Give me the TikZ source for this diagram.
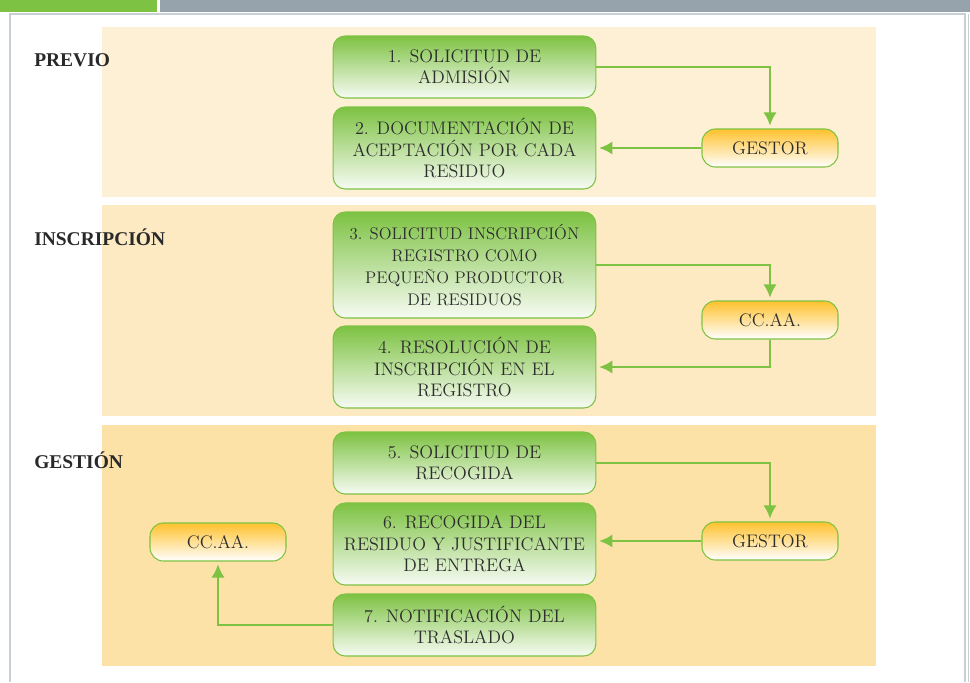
\documentclass[tikz,border=0pt]{standalone}
\usepackage{fontspec}
\newfontfamily\fasefont{Liberation Serif}
\usepackage{tikz}
\usetikzlibrary{arrows.meta,positioning}

\definecolor{verde}{RGB}{125,194,66}
\definecolor{gris}{RGB}{150,162,172}
\definecolor{marco}{RGB}{200,208,214}
\definecolor{naranja}{RGB}{255,194,46}
\definecolor{fondoA}{RGB}{254,240,213}
\definecolor{fondoB}{RGB}{253,233,194}
\definecolor{fondoC}{RGB}{253,226,168}
\definecolor{texto}{RGB}{45,45,45}

\tikzset{
  paso/.style={draw=verde, line width=0.8pt, rounded corners=9pt,
    top color=verde, bottom color=verde!6, text=texto, align=center,
    font=\fontsize{13.6}{16}\selectfont, minimum width=197pt, inner sep=0pt},
  agente/.style={draw=verde, line width=0.8pt, rounded corners=10pt,
    top color=naranja, bottom color=white, text=texto,
    font=\fontsize{13.6}{16}\selectfont, minimum width=102pt,
    minimum height=28.5pt, inner sep=0pt},
  flecha/.style={draw=verde, line width=2.2pt,
    -{Latex[length=10pt,width=10pt]}, shorten >=2pt},
  fase/.style={anchor=west, text=texto!90!black, inner sep=0pt,
    font=\fasefont\fontsize{14.6}{16}\selectfont\bfseries}
}

\begin{document}
\begin{tikzpicture}[x=0.75pt, y=-0.75pt]

    %% Background
    \useasboundingbox (0,0) rectangle (970,682);
    \fill[white] (0,0) rectangle (970,682);

    % top bar and frame
    \fill[verde] (0,0) rectangle (157,12);
    \fill[gris] (160,0) rectangle (970,12);
    \draw[marco, line width=1pt] (10,682) -- (10,14) -- (965,14) -- (965,682);
    \draw[marco, line width=0.6pt] (968,14) -- (968,682);

    % bands
    \fill[fondoA] (102,27) rectangle (876,197);
    \fill[fondoB] (102,205) rectangle (876,416);
    \fill[fondoC] (102,425) rectangle (876,666);

    % phases
    \node[fase] (previo) at (34,60) {PREVIO};
    \node[fase] (inscripcion) at (34,237) {INSCRIPCIÓN};
    \node[fase] (gestion) at (34,460) {GESTIÓN};

    % steps
    \node[paso, minimum height=46.5pt] (s1) at (464.5,67)
      {1. SOLICITUD DE\\ADMISIÓN};
    \node[paso, minimum height=61.5pt] (s2) at (464.5,148)
      {2. DOCUMENTACIÓN DE\\ACEPTACIÓN POR CADA\\RESIDUO};
    \node[paso, minimum height=79.5pt, font=\fontsize{12.6}{16.3}\selectfont] (s3) at (464.5,265)
      {3. SOLICITUD INSCRIPCIÓN\\REGISTRO COMO\\PEQUEÑO PRODUCTOR\\DE RESIDUOS};
    \node[paso, minimum height=61.5pt] (s4) at (464.5,367)
      {4. RESOLUCIÓN DE\\INSCRIPCIÓN EN EL\\REGISTRO};
    \node[paso, minimum height=46.5pt] (s5) at (464.5,463)
      {5. SOLICITUD DE\\RECOGIDA};
    \node[paso, minimum height=61.5pt] (s6) at (464.5,544)
      {6. RECOGIDA DEL\\RESIDUO Y JUSTIFICANTE\\DE ENTREGA};
    \node[paso, minimum height=46.5pt] (s7) at (464.5,625)
      {7. NOTIFICACIÓN DEL\\TRASLADO};

    % agents
    \node[agente] (g1) at (770,148) {GESTOR};
    \node[agente] (c1) at (770,320) {CC.AA.};
    \node[agente] (g2) at (770,541) {GESTOR};
    \node[agente] (c2) at (218,542) {CC.AA.};

    % arrows
    \draw[flecha] (s1.east) -| (g1.north);
    \draw[flecha] (g1.west) -- (s2.east);
    \draw[flecha] (s3.east) -| (c1.north);
    \draw[flecha] (c1.south) |- (s4.east);
    \draw[flecha] (s5.east) -| (g2.north);
    \draw[flecha] (g2.west) -- (g2.west -| s6.east);
    \draw[flecha] (s7.west) -| (c2.south);

\end{tikzpicture}
\end{document}
